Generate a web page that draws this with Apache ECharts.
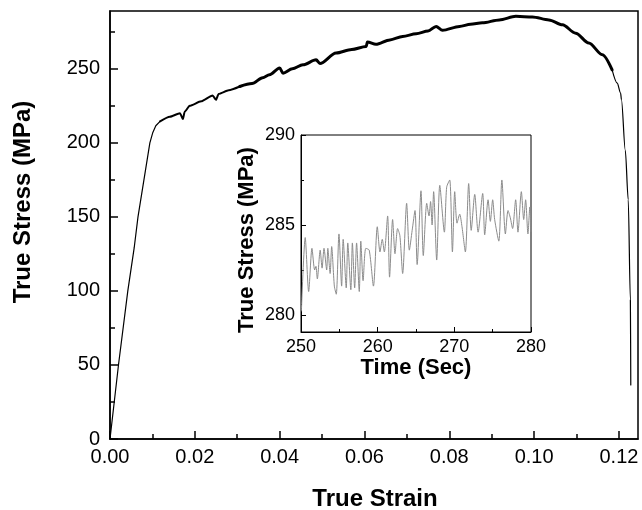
<!DOCTYPE html>
<html><head><meta charset="utf-8">
<script src="https://cdn.jsdelivr.net/npm/echarts@6/dist/echarts.min.js"></script>
<style>html,body{margin:0;padding:0;background:#fff}#c{width:642px;height:510px}</style>
</head><body><div id="c"></div>
<script>
// Main curve: elastic part
const elasticStrain = [0, 0.0020, 0.0042, 0.0057, 0.0066, 0.0080, 0.0094, 0.0101, 0.0108, 0.0118];
const elasticStress = [0, 50, 100, 129, 150, 175, 200, 207, 211.5, 214.5];
// Main curve: early hardening (thin band)
const earlyStrain = [0.0118, 0.0141, 0.0165, 0.0172, 0.0176, 0.0188, 0.0215, 0.0242, 0.0250, 0.0256, 0.0280, 0.0306];
const earlyStress = [214.5, 217.6, 220, 216, 221, 225, 228, 232, 229, 233, 235.5, 238];
// Main curve: plastic (oscillating band) part
const plasticStrain = [0.0306, 0.0335, 0.0360, 0.0376, 0.0400, 0.0408, 0.0430, 0.0455, 0.0486, 0.0495, 0.0533, 0.0570, 0.0604, 0.0607, 0.0627, 0.0660, 0.0690, 0.0722, 0.0750, 0.0769, 0.0784, 0.0824, 0.0850, 0.0878, 0.0918, 0.0957, 0.0996, 0.1035, 0.1067, 0.1098, 0.1129, 0.1161, 0.1184];
const plasticStress = [238, 240, 244, 245.9, 250.5, 247, 250, 252.7, 256, 253.5, 260.6, 263, 265, 268, 266.5, 269.5, 271.8, 273.6, 275.5, 278.6, 276, 278.6, 280, 281, 283, 285.4, 285, 283, 279.7, 274, 267.4, 259.5, 249.3];
// Main curve: final drop
const dropStrain = [0.1184, 0.1196, 0.1204, 0.1206, 0.1215, 0.1222, 0.1227, 0.1228];
const dropStress = [249.3, 240.3, 233.6, 229, 195, 161.5, 94, 36.5];

const mainXTicks = [0, 0.02, 0.04, 0.06, 0.08, 0.10, 0.12];
const mainXMinor = [0.01, 0.03, 0.05, 0.07, 0.09, 0.11];
const mainYTicks = [0, 50, 100, 150, 200, 250];
const mainYMinor = [25, 75, 125, 175, 225, 275];

// Inset
const insetTime = [250.05, 250.55, 251.0, 251.43, 251.78, 251.95, 252.13, 252.5, 252.75, 253.0, 253.35, 253.5, 253.8, 254.0, 254.35, 254.6, 254.95, 255.3, 255.5, 255.9, 256.1, 256.5, 256.7, 257.0, 257.25, 257.6, 257.8, 258.1, 258.45, 258.9, 259.45, 259.95, 260.3, 260.6, 260.87, 261.3, 261.55, 261.95, 262.26, 262.6, 262.9, 263.26, 263.78, 264.13, 264.5, 264.87, 265.15, 265.65, 265.95, 266.4, 266.7, 266.9, 267.1, 267.3, 267.7, 268.1, 268.7, 269.0, 269.4, 269.75, 270.05, 270.35, 270.7, 271.0, 271.44, 271.87, 272.2, 272.66, 273.1, 273.7, 273.96, 274.4, 274.7, 275.0, 275.26, 275.8, 276.2, 276.66, 277.0, 277.3, 277.6, 278.0, 278.3, 278.74, 279.05, 279.3, 279.6, 279.85, 280.0];
const insetStress = [280.2, 284.3, 281.3, 283.7, 282.5, 282.7, 282.0, 283.6, 282.6, 283.7, 282.5, 283.7, 282.3, 283.8, 281.6, 281.15, 284.5, 281.6, 284.2, 281.5, 284.0, 281.4, 284.0, 281.5, 284.0, 281.3, 284.1, 281.9, 283.7, 283.6, 281.6, 284.9, 283.5, 284.2, 283.5, 285.5, 282.1, 285.3, 283.4, 284.8, 284.4, 282.3, 286.2, 283.6, 284.7, 285.8, 282.8, 286.9, 283.3, 286.2, 285.5, 286.3, 285.0, 286.85, 283.05, 287.2, 284.6, 287.1, 287.5, 283.5, 286.85, 285.1, 285.6, 284.9, 283.5, 287.3, 284.7, 286.7, 284.6, 286.75, 284.45, 286.4, 285.2, 286.4, 285.3, 284.1, 287.5, 284.5, 285.8, 285.4, 284.8, 286.4, 284.6, 286.85, 285.3, 286.4, 284.5, 286.0, 284.6];
const insetXTicks = [250, 260, 270, 280];
const insetXMinor = [255, 265, 275];
const insetYTicks = [280, 285, 290];
const insetYMinor = [282.5, 287.5];

const pairs = (xs, ys) => xs.map((x, i) => [x, ys[i]]);
const FF = '"Liberation Sans", Arial, sans-serif';

const chart = echarts.init(document.getElementById('c'), null, {renderer: 'canvas'});

function axisBase(extra) {
  return Object.assign({
    type: 'value',
    splitLine: {show: false},
    axisLine: {show: false},
    axisTick: {show: false},
    axisLabel: {show: false}
  }, extra);
}

function mainLine(data, width, smooth) {
  return {type: 'line', xAxisIndex: 0, yAxisIndex: 0, data: data, showSymbol: false,
    smooth: smooth, smoothMonotone: 'x',
    lineStyle: {color: '#000', width: width, join: 'round', cap: 'round'}, itemStyle: {color: '#000'}};
}

chart.setOption({
  animation: false,
  backgroundColor: '#fff',
  grid: [
    {left: 110, top: 11, width: 528, height: 428, show: true, borderColor: '#000', borderWidth: 1.5, backgroundColor: 'transparent'},
    {left: 301, top: 135, width: 230, height: 197, show: true, borderColor: '#000', borderWidth: 1, backgroundColor: 'transparent'}
  ],
  xAxis: [
    axisBase({gridIndex: 0, position: 'bottom', min: 0, max: 0.1245,
      axisLine: {show: true, onZero: false, lineStyle: {color: '#000', width: 1.5}},
      axisTick: {show: true, inside: true, length: 8, customValues: mainXTicks, lineStyle: {color: '#000', width: 1.5}},
      axisLabel: {show: true, customValues: mainXTicks, formatter: v => v.toFixed(2), fontSize: 20, fontFamily: FF, color: '#000', margin: 8}
    }),
    axisBase({gridIndex: 0, position: 'bottom', min: 0, max: 0.1245,
      axisTick: {show: true, inside: true, length: 5, customValues: mainXMinor, lineStyle: {color: '#000', width: 1.5}}
    }),
    axisBase({gridIndex: 1, position: 'bottom', min: 250, max: 280,
      axisLine: {show: true, onZero: false, lineStyle: {color: '#000', width: 1}},
      axisTick: {show: true, inside: true, length: 5, customValues: insetXTicks, lineStyle: {color: '#000'}},
      axisLabel: {show: true, customValues: insetXTicks, fontSize: 18, fontFamily: FF, color: '#000', margin: 6}
    }),
    axisBase({gridIndex: 1, position: 'bottom', min: 250, max: 280,
      axisTick: {show: true, inside: true, length: 3, customValues: insetXMinor, lineStyle: {color: '#000'}}
    })
  ],
  yAxis: [
    axisBase({gridIndex: 0, position: 'left', min: 0, max: 289,
      axisLine: {show: true, onZero: false, lineStyle: {color: '#000', width: 1.5}},
      axisTick: {show: true, inside: true, length: 8, customValues: mainYTicks, lineStyle: {color: '#000', width: 1.5}},
      axisLabel: {show: true, customValues: mainYTicks, fontSize: 20, fontFamily: FF, color: '#000', margin: 10}
    }),
    axisBase({gridIndex: 0, position: 'left', min: 0, max: 289,
      axisTick: {show: true, inside: true, length: 5, customValues: mainYMinor, lineStyle: {color: '#000', width: 1.5}}
    }),
    axisBase({gridIndex: 1, position: 'left', min: 279.05, max: 290,
      axisLine: {show: true, onZero: false, lineStyle: {color: '#000', width: 1}},
      axisTick: {show: true, inside: true, length: 5, customValues: insetYTicks, lineStyle: {color: '#000'}},
      axisLabel: {show: true, customValues: insetYTicks, fontSize: 18, fontFamily: FF, color: '#000', margin: 6}
    }),
    axisBase({gridIndex: 1, position: 'left', min: 279.05, max: 290,
      axisTick: {show: true, inside: true, length: 3, customValues: insetYMinor, lineStyle: {color: '#000'}}
    })
  ],
  graphic: [
    {type: 'text', x: 375, y: 499, style: {text: 'True Strain', font: 'bold 24px ' + FF, fill: '#000', align: 'center', verticalAlign: 'middle', textAlign: 'center', textVerticalAlign: 'middle'}},
    {type: 'text', x: 23, y: 202, rotation: Math.PI / 2, style: {text: 'True Stress (MPa)', font: 'bold 24px ' + FF, fill: '#000', align: 'center', verticalAlign: 'middle', textAlign: 'center', textVerticalAlign: 'middle'}},
    {type: 'text', x: 416, y: 368, style: {text: 'Time (Sec)', font: 'bold 22px ' + FF, fill: '#000', align: 'center', verticalAlign: 'middle', textAlign: 'center', textVerticalAlign: 'middle'}},
    {type: 'text', x: 247, y: 240, rotation: Math.PI / 2, style: {text: 'True Stress (MPa)', font: 'bold 22px ' + FF, fill: '#000', align: 'center', verticalAlign: 'middle', textAlign: 'center', textVerticalAlign: 'middle'}}
  ],
  series: [
    mainLine(pairs(elasticStrain, elasticStress), 1.2, false),
    mainLine(pairs(earlyStrain, earlyStress), 2, 0.2),
    mainLine(pairs(plasticStrain, plasticStress), 3, 0.3),
    mainLine(pairs(dropStrain, dropStress), 1.2, 0.3),
    {type: 'line', xAxisIndex: 2, yAxisIndex: 2, data: pairs(insetTime, insetStress), showSymbol: false, smooth: 0.25, lineStyle: {color: '#8c8c8c', width: 1}, itemStyle: {color: '#8c8c8c'}}
  ]
});
</script>
</body></html>
